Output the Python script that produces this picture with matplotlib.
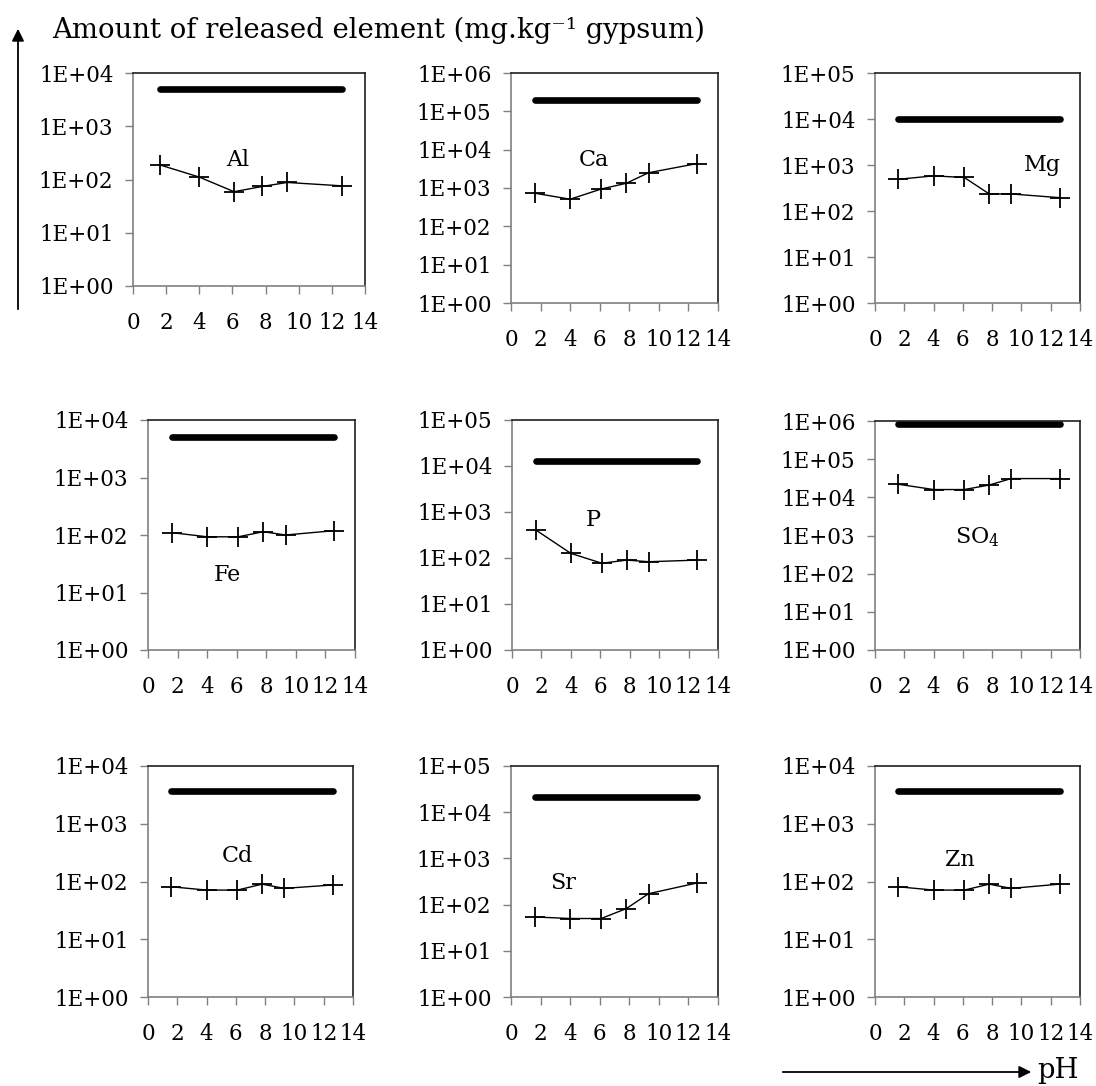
import numpy as np
import matplotlib.pyplot as plt
from matplotlib.patches import FancyArrowPatch
from matplotlib.ticker import FixedLocator, FuncFormatter

plt.rcParams.update({
    'font.family': 'DejaVu Serif',
    'mathtext.fontset': 'dejavuserif',
})

W, H = 1096, 1086

# pH of the leaching solutions (same for every element)
ph = [1.6, 4.0, 6.1, 7.8, 9.3, 12.6]

# released amounts, mg/kg gypsum
al = [189, 111, 59, 74, 88, 76]
ca = [733, 510, 940, 1330, 2500, 4350]
mg = [490, 580, 535, 235, 235, 195]
fe = [110, 93, 93, 114, 100, 119]
p = [410, 126, 77, 90, 83, 90]
so4 = [22000, 16000, 16000, 21000, 31000, 31000]
cd = [81, 71, 71, 90, 76, 87]
sr = [54, 50, 50, 82, 172, 295]
zn = [81, 71, 71, 90, 76, 90]

# total content in the gypsum (thick bar)
total = {'Al': 4900, 'Ca': 2.0e5, 'Mg': 9800, 'Fe': 5100, 'P': 13000,
         'SO4': 8.2e5, 'Cd': 3750, 'Sr': 21700, 'Zn': 3750}

names = ['Al', 'Ca', 'Mg', 'Fe', 'P', 'SO4', 'Cd', 'Sr', 'Zn']
series = [al, ca, mg, fe, p, so4, cd, sr, zn]
top_decade = [4, 6, 5, 4, 5, 6, 4, 5, 4]
labels = ['Al', 'Ca', 'Mg', 'Fe', 'P', r'SO$_4$', 'Cd', 'Sr', 'Zn']
label_pos = [(6.3, 230), (5.6, 5400), (11.4, 1000), (5.4, 20), (5.5, 670),
             (7.0, 900), (6.1, 280), (3.5, 300), (5.8, 240)]

# axes boxes in pixels: left, top, right, bottom
boxes = [
    (133, 73, 365, 286), (511, 73, 718, 303), (875, 73, 1080, 303),
    (148, 420, 355, 650), (512, 420, 718, 650), (875, 421, 1080, 650),
    (148, 766, 353, 997), (511, 766, 718, 997), (875, 766, 1080, 997),
]

fig = plt.figure(figsize=(W / 100, H / 100), dpi=100)


def fmt(v, pos):
    e = int(round(np.log10(v)))
    return '1E+%02d' % e


for i, name in enumerate(names):
    l, t, r, b = boxes[i]
    ax = fig.add_axes([l / W, 1 - b / H, (r - l) / W, (b - t) / H])
    ax.set_yscale('log')
    ax.set_ylim(1, 10 ** top_decade[i])
    ax.set_xlim(0, 14)

    ax.plot([ph[0], ph[-1]], [total[name]] * 2, color='black', lw=4.8,
            solid_capstyle='round')
    ax.plot(ph, series[i], color='black', lw=1.0, marker='+', ms=14, mew=1.3)
    ax.text(label_pos[i][0], label_pos[i][1], labels[i], fontsize=16,
            ha='center', va='center')

    ax.yaxis.set_major_locator(FixedLocator([10.0 ** k for k in range(top_decade[i] + 1)]))
    ax.yaxis.set_minor_locator(FixedLocator([]))
    ax.yaxis.set_major_formatter(FuncFormatter(fmt))
    ax.set_xticks(range(0, 15, 2))
    ax.tick_params(direction='out', length=6, width=1, color='#808080',
                   labelsize=15.5, pad=8)
    ax.tick_params(axis='x', pad=13)
    for side in ['left', 'bottom']:
        ax.spines[side].set_color('#808080')
    for side in ['top', 'right']:
        ax.spines[side].set_color('#202020')
    for sp in ax.spines.values():
        sp.set_linewidth(1.2)

fig.text(52 / W, 1 - 30 / H, 'Amount of released element (mg.kg\u207b\u00b9 gypsum)',
         fontsize=19.8, ha='left', va='center')
fig.add_artist(FancyArrowPatch(
    (18 / W, 1 - 312 / H), (18 / W, 1 - 26 / H), transform=fig.transFigure,
    arrowstyle='-|>', mutation_scale=18, color='black', lw=1.3))
fig.add_artist(FancyArrowPatch(
    (780 / W, 1 - 1072 / H), (1034 / W, 1 - 1072 / H), transform=fig.transFigure,
    arrowstyle='-|>', mutation_scale=18, color='black', lw=1.3))
fig.text(1037 / W, 1 - 1070 / H, 'pH', fontsize=19.8, ha='left', va='center')

fig.savefig('out.png', dpi=100)
